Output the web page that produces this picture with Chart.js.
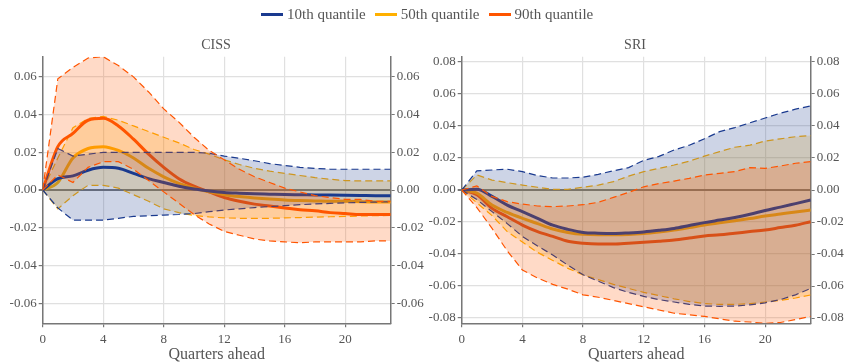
<!DOCTYPE html>
<html><head><meta charset="utf-8">
<script src="https://cdn.jsdelivr.net/npm/chart.js@4.4.1/dist/chart.umd.min.js"></script>
<style>
html,body{margin:0;padding:0;background:#fff;width:845px;height:363px;overflow:hidden;position:relative;font-family:"Liberation Serif",serif;}
#legend{position:absolute;top:5px;left:261px;height:18px;display:flex;align-items:center;color:#555;font-size:15px;white-space:nowrap;z-index:5;}
.item{display:flex;align-items:center;margin-right:9px;}
.sw{width:22px;height:3px;margin-right:4px;}
#c1{position:absolute;left:0;top:0;}
#c2{position:absolute;left:425px;top:0;}
</style></head>
<body>
<div id="legend">
  <div class="item"><span class="sw" style="background:#1a3a8f"></span><span>10th quantile</span></div>
  <div class="item"><span class="sw" style="background:#ffb000"></span><span>50th quantile</span></div>
  <div class="item"><span class="sw" style="background:#ff5500"></span><span>90th quantile</span></div>
</div>
<canvas id="c1" width="432" height="363"></canvas>
<canvas id="c2" width="420" height="363"></canvas>
<script>
const QUARTERS = [0,1,2,3,4,5,6,7,8,9,10,11,12,13,14,15,16,17,18,19,20,21,22,23];
const X_TICKS = [0,4,8,12,16,20];
const Y_TICKS_CISS = [-0.06,-0.04,-0.02,0,0.02,0.04,0.06];
const Y_TICKS_SRI = [-0.08,-0.06,-0.04,-0.02,0,0.02,0.04,0.06,0.08];
const LEGEND_LABELS = ['10th quantile','50th quantile','90th quantile'];

// CISS
const ciss_p10_med = [0,.006,.0075,.0105,.012,.0115,.0088,.006,.004,.002,.0005,-.0005,-.0013,-.0017,-.002,-.0022,-.0024,-.0025,-.0026,-.0027,-.0028,-.0029,-.003,-.003];
const ciss_p10_lo  = [0,-.0095,-.016,-.016,-.016,-.015,-.014,-.0137,-.0133,-.013,-.0125,-.0115,-.0106,-.01,-.0093,-.0088,-.0083,-.0078,-.0074,-.0071,-.0068,-.0066,-.0064,-.0063];
const ciss_p10_hi  = [0,.022,.018,.019,.020,.020,.020,.020,.020,.020,.020,.0195,.018,.0168,.0155,.014,.013,.012,.0115,.011,.011,.011,.011,.011];
const ciss_p50_med = [0,.004,.017,.022,.023,.021,.017,.0115,.007,.0035,.001,-.001,-.0025,-.0035,-.0042,-.0048,-.0053,-.0056,-.0058,-.006,-.006,-.0062,-.0063,-.0063];
const ciss_p50_lo  = [0,-.010,-.003,.0025,.0025,.001,-.0025,-.006,-.010,-.012,-.0135,-.0143,-.0148,-.015,-.015,-.015,-.0148,-.0146,-.0144,-.0142,-.014,-.0138,-.0136,-.0135];
const ciss_p50_hi  = [0,.017,.033,.038,.039,.037,.034,.031,.028,.025,.0215,.019,.016,.0135,.0115,.010,.0088,.0077,.0066,.0057,.005,.0048,.0048,.0048];
const ciss_p90_med = [0,.023,.030,.037,.038,.034,.027,.019,.012,.006,.002,-.001,-.004,-.006,-.0075,-.0085,-.0095,-.0105,-.011,-.012,-.0125,-.013,-.013,-.013];
const ciss_p90_lo  = [0,.008,.004,.012,.015,.015,.011,.005,-.001,-.007,-.013,-.018,-.022,-.024,-.026,-.027,-.0275,-.028,-.0275,-.0275,-.0275,-.0275,-.027,-.027];
const ciss_p90_hi  = [0,.059,.065,.070,.0707,.066,.060,.052,.043,.036,.028,.021,.016,.011,.007,.004,.001,-.001,-.003,-.004,-.005,-.005,-.006,-.006];

// SRI
const sri_p10_med = [0,.0005,-.004,-.0094,-.0135,-.0177,-.022,-.0246,-.0265,-.027,-.0272,-.0268,-.0262,-.0252,-.024,-.0222,-.0204,-.0188,-.0172,-.0152,-.0128,-.0107,-.0085,-.0063];
const sri_p10_lo  = [0,-.006,-.0135,-.021,-.029,-.035,-.0406,-.047,-.053,-.057,-.061,-.064,-.0665,-.0685,-.070,-.0715,-.0725,-.0727,-.0725,-.0718,-.0705,-.0685,-.0655,-.0615];
const sri_p10_hi  = [0,.012,.0125,.013,.0115,.009,.0075,.0075,.008,.0098,.012,.014,.0185,.021,.025,.028,.032,.0365,.039,.042,.045,.048,.0505,.0525];
const sri_p50_med = [0,-.002,-.0094,-.014,-.0177,-.021,-.0244,-.0265,-.0277,-.028,-.028,-.0278,-.0272,-.0262,-.025,-.0235,-.0219,-.0205,-.0192,-.0178,-.0163,-.015,-.0137,-.0125];
const sri_p50_lo  = [0,-.008,-.016,-.026,-.0325,-.039,-.044,-.049,-.053,-.056,-.059,-.0615,-.064,-.066,-.068,-.0697,-.071,-.0715,-.0715,-.071,-.070,-.069,-.0675,-.0656];
const sri_p50_hi  = [0,.0094,.0062,.0046,.0031,.0017,.0004,.0004,.0017,.0031,.0052,.0087,.0115,.0135,.0156,.018,.0212,.024,.0267,.028,.0306,.032,.0333,.034];
const sri_p90_med = [0,-.003,-.0115,-.0167,-.0219,-.026,-.029,-.032,-.0333,-.0338,-.0338,-.0333,-.0327,-.032,-.0312,-.030,-.0287,-.028,-.027,-.026,-.025,-.0235,-.022,-.0198];
const sri_p90_lo  = [0,-.011,-.024,-.038,-.050,-.055,-.059,-.062,-.0655,-.067,-.069,-.071,-.073,-.075,-.077,-.078,-.079,-.0805,-.082,-.0825,-.0833,-.0828,-.081,-.079];
const sri_p90_hi  = [0,.0025,-.004,-.0073,-.0088,-.010,-.0104,-.010,-.0092,-.0077,-.0046,-.0015,.002,.004,.0056,.0073,.0094,.0104,.0115,.014,.0135,.015,.0167,.0177];

const C10 = '#1a3a8f', C50 = '#ffb000', C90 = '#ff5500';
const F10 = 'rgba(26,58,143,0.22)', F50 = 'rgba(255,176,0,0.22)', F90 = 'rgba(255,85,0,0.22)';
const FONT = 'Liberation Serif';
const TXT = '#555';

function pts(arr){ return QUARTERS.map((q,i)=>({x:q,y:arr[i]})); }
function edge(arr,color,fill,bg){
  return {data:pts(arr),borderColor:color,borderWidth:1.2,borderDash:[7,4],fill:fill,backgroundColor:bg||'transparent',pointRadius:0,tension:0};
}
function med(arr,color){
  return {data:pts(arr),borderColor:color,borderWidth:3,fill:false,pointRadius:0,cubicInterpolationMode:'monotone'};
}

function makeChart(id,title,lim,yTicks,s,wL,wR){
  const datasets = [
    edge(s.p90hi,C90,'+1',F90), edge(s.p90lo,C90,false),
    edge(s.p10hi,C10,'+1',F10), edge(s.p10lo,C10,false),
    med(s.p10med,C10), med(s.p50med,C50), med(s.p90med,C90),
    edge(s.p50hi,C50,'+1',F50), edge(s.p50lo,C50,false)
  ];
  const tickFont = {family:FONT,size:13};
  const yCommon = {
    type:'linear', min:-lim, max:lim,
    afterBuildTicks: sc => { sc.ticks = yTicks.map(v=>({value:v})); },
    ticks:{color:TXT,font:tickFont,padding:2,callback:v=>Number(v).toFixed(2)},
    border:{display:true,color:'#777',width:1.5}
  };
  return new Chart(document.getElementById(id),{
    type:'line',
    data:{datasets},
    options:{
      responsive:false, animation:false,
      layout:{padding:{top:28,left:0,right:0,bottom:0}},
      plugins:{
        legend:{display:false}, tooltip:{enabled:false},
        title:{display:true,text:title,color:TXT,font:{family:FONT,size:14,weight:'normal'},padding:{top:8.6,bottom:3.3}},
        filler:{propagate:false}
      },
      scales:{
        x:{type:'linear',min:0,max:23,
          afterBuildTicks: sc => { sc.ticks = X_TICKS.map(v=>({value:v})); },
          ticks:{color:TXT,font:tickFont,padding:4,maxRotation:0,callback:v=>String(v)},
          grid:{color:'#e0e0e0',lineWidth:1.2,tickLength:4,tickColor:'#777'},
          border:{display:true,color:'#777',width:1.5},
          title:{display:true,text:'Quarters ahead',color:TXT,font:{family:FONT,size:16,lineHeight:1},padding:{top:0,bottom:0}},
          afterFit: sc => { sc.height = 39.7; }
        },
        y:Object.assign({},yCommon,{position:'left',
          grid:{color:c=>(c.tick&&c.tick.value===0)?'#7a7a7a':'#e0e0e0',lineWidth:c=>(c.tick&&c.tick.value===0)?2:1.2,tickLength:4,tickColor:'#777'},
          afterFit: sc => { sc.width = wL; }}),
        y2:Object.assign({},yCommon,{position:'right',
          grid:{drawOnChartArea:false,tickLength:4,tickColor:'#777'},
          afterFit: sc => { sc.width = wR; }})
      }
    }
  });
}

makeChart('c1','CISS',0.0707,Y_TICKS_CISS,{
  p10med:ciss_p10_med,p10lo:ciss_p10_lo,p10hi:ciss_p10_hi,
  p50med:ciss_p50_med,p50lo:ciss_p50_lo,p50hi:ciss_p50_hi,
  p90med:ciss_p90_med,p90lo:ciss_p90_lo,p90hi:ciss_p90_hi},42.7,41.3);
makeChart('c2','SRI',0.0833,Y_TICKS_SRI,{
  p10med:sri_p10_med,p10lo:sri_p10_lo,p10hi:sri_p10_hi,
  p50med:sri_p50_med,p50lo:sri_p50_lo,p50hi:sri_p50_hi,
  p90med:sri_p90_med,p90lo:sri_p90_lo,p90hi:sri_p90_hi},36.7,34.3);
</script>
</body></html>
